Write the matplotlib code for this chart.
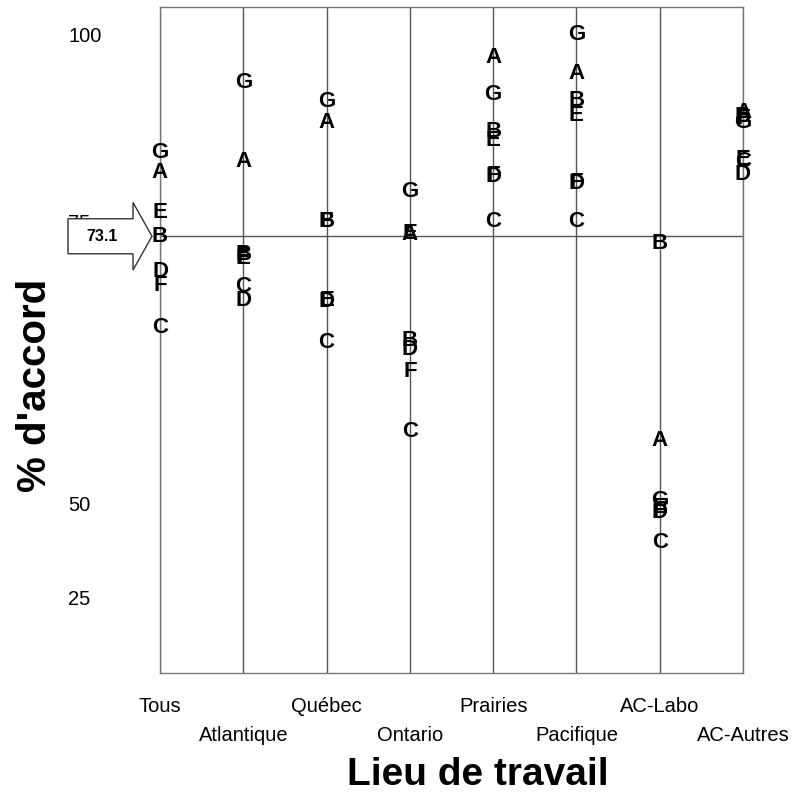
import numpy as np
import matplotlib
matplotlib.use('Agg')
import matplotlib.pyplot as plt
from matplotlib.patches import Polygon
from matplotlib.transforms import blended_transform_factory

plt.rcParams['font.family'] = ['Liberation Sans', 'DejaVu Sans']

# categories (work location)
lieux = ['Tous', 'Atlantique', 'Québec', 'Ontario', 'Prairies',
         'Pacifique', 'AC-Labo', 'AC-Autres']

# % agreement per item, one list per letter
item_a = [81.6, 83.0, 88.2, 73.3, 96.9, 94.8, 45.9, 89.5]
item_b = [73.1, 70.7, 75.1, 59.3, 87.1, 91.1, 72.1, 89.0]
item_c = [61.0, 66.4, 59.0, 47.1, 75.1, 75.1, 32.3, 83.0]
item_d = [68.4, 64.6, 64.4, 58.1, 81.1, 80.1, 36.3, 81.3]
item_e = [76.3, 70.1, 64.6, 73.5, 85.9, 89.1, 37.0, 83.3]
item_f = [66.6, 70.4, 75.0, 55.1, 81.2, 80.2, 36.6, 88.8]
item_g = [84.3, 93.6, 91.0, 79.0, 92.0, 100.0, 38.0, 88.3]

items = {'A': item_a, 'B': item_b, 'C': item_c, 'D': item_d,
         'E': item_e, 'F': item_f, 'G': item_g}

reference = 73.1

# y tick labels as placed in the original
ytick_pos = [100, 75, 37.6, 25]
ytick_lab = ['100', '75', '50', '25']

fig = plt.figure(figsize=(7.98, 7.94), dpi=100)
ax = fig.add_axes([160 / 798, 1 - 673 / 794, 583 / 798, 666 / 794])

x = np.arange(len(lieux))
ax.set_xlim(0, len(lieux) - 1)
ax.set_ylim(15.0, 103.6)

for xi in x:
    ax.axvline(xi, color='#555555', lw=1, zorder=1)
ax.axhline(reference, color='#555555', lw=1, zorder=1)

for letter, vals in items.items():
    for xi, v in zip(x, vals):
        ax.text(xi, v, letter, ha='center', va='center', fontsize=16,
                fontweight='bold', zorder=3, clip_on=False)

for s in ax.spines.values():
    s.set_color('#777777')
    s.set_linewidth(1)

# x labels on two alternating rows
xlabs = [n if i % 2 == 0 else '\n' + n for i, n in enumerate(lieux)]
ax.set_xticks(x)
ax.set_xticklabels(xlabs, fontsize=14.5, linespacing=1.72)
ax.tick_params(axis='x', length=0, pad=17)

ax.set_yticks(ytick_pos)
ax.set_yticklabels(ytick_lab, fontsize=14.5)
ax.tick_params(axis='y', length=0, pad=66)
for t in ax.get_yticklabels():
    t.set_ha('left')

# reference arrow on the left
tr = blended_transform_factory(fig.transFigure, ax.transData)
x0, x1, x2 = 68 / 798, 133 / 798, 152 / 798
hb, hh = 2.33, 4.5
arrow = Polygon([(x0, reference + hb), (x1, reference + hb), (x1, reference + hh),
                 (x2, reference), (x1, reference - hh), (x1, reference - hb),
                 (x0, reference - hb)], closed=True, transform=tr,
                facecolor='white', edgecolor='#333333', lw=1, clip_on=False,
                zorder=5)
ax.add_patch(arrow)
ax.text(102 / 798, reference, '73.1', transform=tr, ha='center', va='center',
        fontsize=11.5, fontweight='bold', zorder=6, clip_on=False)

fig.text(35 / 798, 1 - 385 / 794, "% d'accord", rotation=90, ha='center',
         va='center', fontsize=29, fontweight='bold')
fig.text(478 / 798, 1 - 775 / 794, 'Lieu de travail', ha='center',
         va='center', fontsize=28, fontweight='bold')

fig.savefig('out.png', dpi=100)
